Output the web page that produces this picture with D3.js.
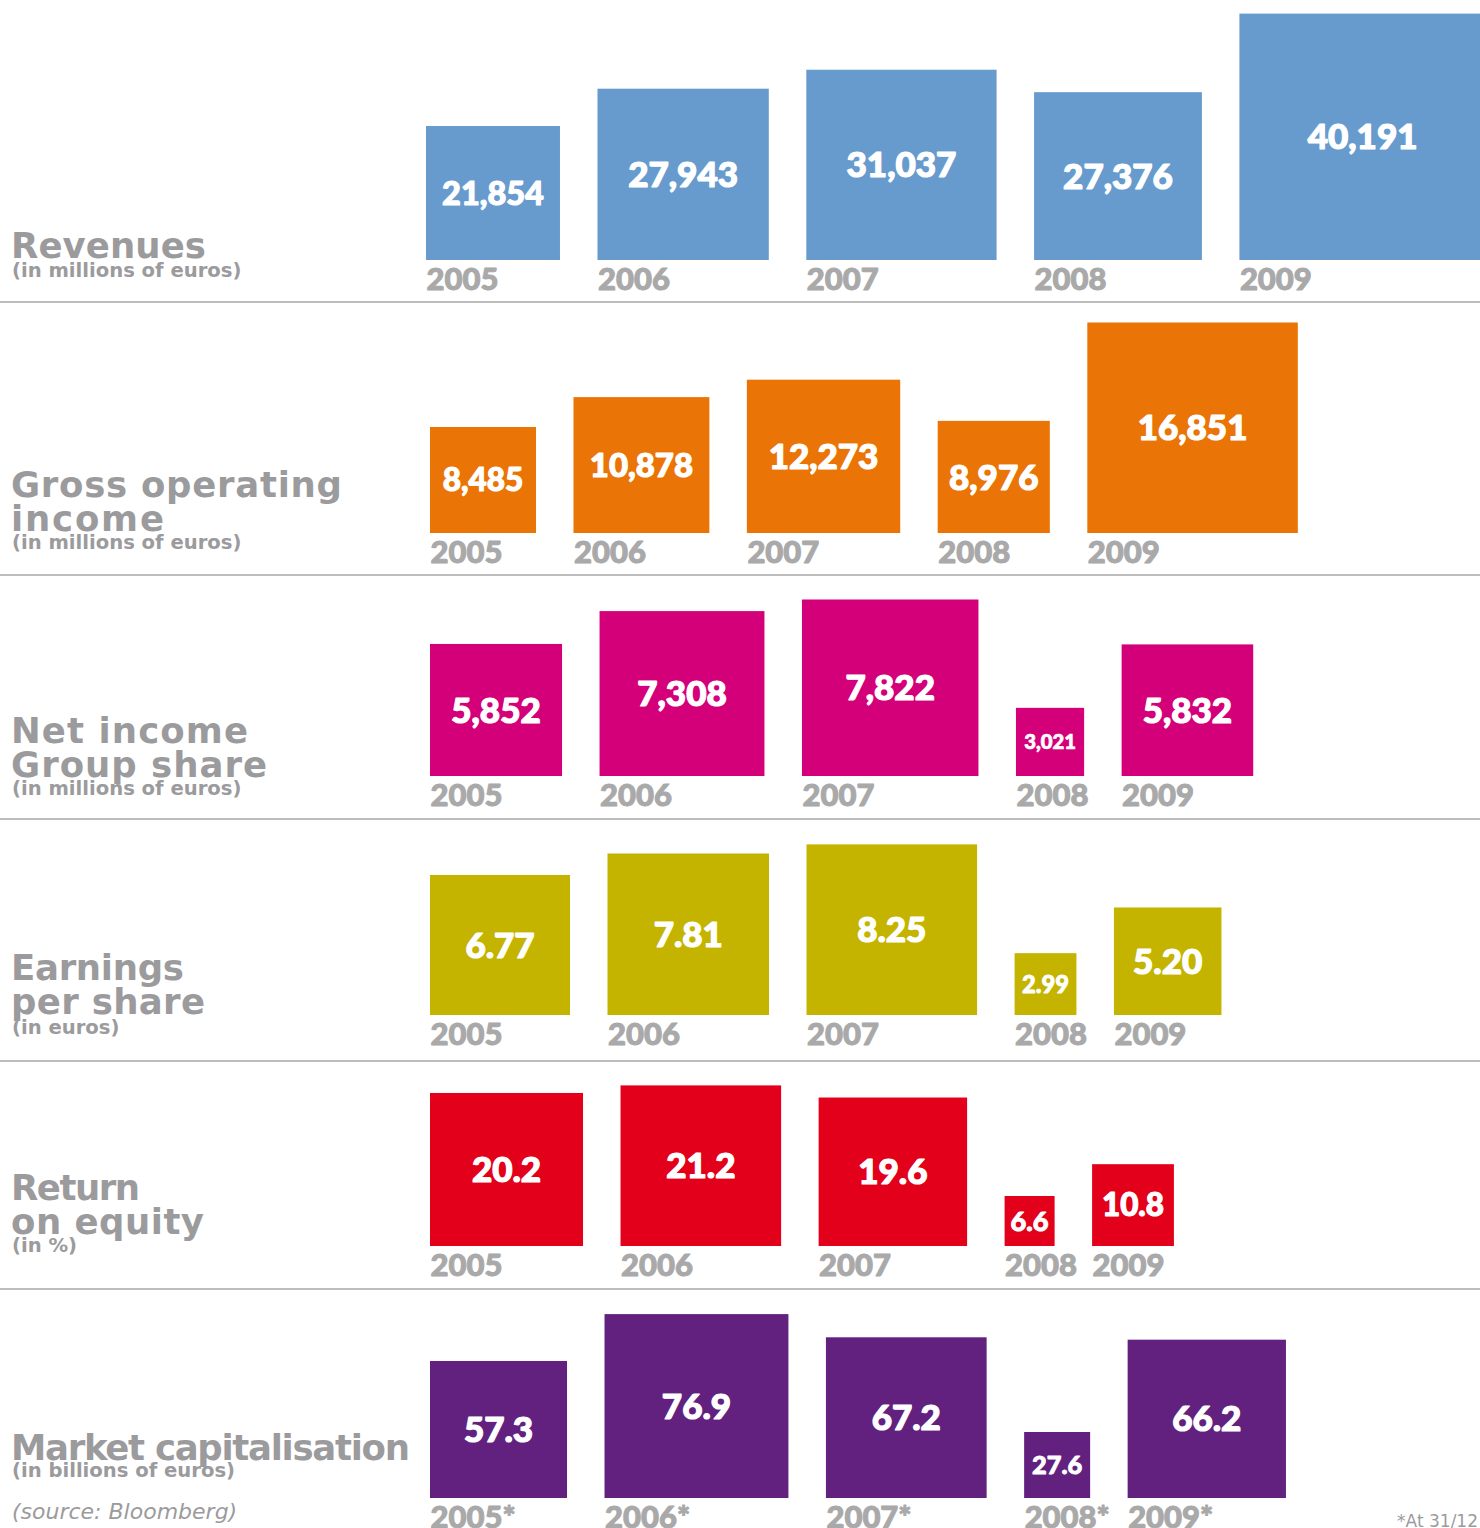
<!DOCTYPE html>
<html>
<head>
<meta charset="utf-8">
<script src="https://cdn.jsdelivr.net/npm/d3@7"></script>
<style>
  html, body { margin: 0; padding: 0; background: #ffffff; }
  svg { display: block; }
</style>
</head>
<body>
<div id="chart"></div>
<script>
// ---------- DATA ----------
const years = ["2005", "2006", "2007", "2008", "2009"];
const revenues = [21854, 27943, 31037, 27376, 40191];
const grossOperatingIncome = [8485, 10878, 12273, 8976, 16851];
const netIncomeGroupShare = [5852, 7308, 7822, 3021, 5832];
const earningsPerShare = [6.77, 7.81, 8.25, 2.99, 5.20];
const returnOnEquity = [20.2, 21.2, 19.6, 6.6, 10.8];
const marketCapitalisation = [57.3, 76.9, 67.2, 27.6, 66.2];

const rowTitles = [
  ["Revenues"],
  ["Gross operating", "income"],
  ["Net income", "Group share"],
  ["Earnings", "per share"],
  ["Return", "on equity"],
  ["Market capitalisation"]
];
const rowUnits = [
  "(in millions of euros)",
  "(in millions of euros)",
  "(in millions of euros)",
  "(in euros)",
  "(in %)",
  "(in billions of euros)"
];
const yearSuffixes = ["", "", "", "", "", "*"];
const sourceNote = "(source: Bloomberg)";
const footNote = "*At 31/12";

// ---------- LAYOUT ----------
const W = 1480, H = 1528;
const gap = 37.5;
// title line widths (px) as they appear in the reference layout
const titleWidths = [
  [195],
  [331, 153],
  [237, 256],
  [173, 194],
  [129, 193],
  [399]
];
const rows = [
  { values: revenues, fmt: d3.format(","), color: "#689bcd", base: 260, x0: 426, maxSide: 246.4,
    titleY: [258], subY: 277 },
  { values: grossOperatingIncome, fmt: d3.format(","), color: "#ea7405", base: 533, x0: 430, maxSide: 210.5,
    titleY: [497, 531], subY: 549 },
  { values: netIncomeGroupShare, fmt: d3.format(","), color: "#d4007a", base: 776, x0: 430, maxSide: 176.5,
    titleY: [743, 777], subY: 795 },
  { values: earningsPerShare, fmt: d3.format(".2f"), color: "#c4b400", base: 1015, x0: 430, maxSide: 170.6,
    titleY: [980, 1014], subY: 1034 },
  { values: returnOnEquity, fmt: d3.format(".1f"), color: "#e2001a", base: 1246, x0: 430, maxSide: 160.6,
    titleY: [1200, 1234], subY: 1252 },
  { values: marketCapitalisation, fmt: d3.format(".1f"), color: "#63217f", base: 1498, x0: 430, maxSide: 183.9,
    titleY: [1460], subY: 1477 }
];
const separators = [302, 575, 819, 1061, 1289];

const titleFont = "'DejaVu Sans', sans-serif";
const numFont = "Lato, 'DejaVu Sans', sans-serif";
const titleGray = "#9b9b9d";
const yearGray = "#a9a9aa";

const svg = d3.select("#chart").append("svg")
  .attr("width", W).attr("height", H)
  .attr("viewBox", `0 0 ${W} ${H}`);

// separators
svg.append("g").selectAll("line").data(separators).join("line")
  .attr("x1", 0).attr("x2", W)
  .attr("y1", d => d).attr("y2", d => d)
  .attr("stroke", "#bdbdbd").attr("stroke-width", 2);

rows.forEach((row, ri) => {
  const g = svg.append("g").attr("class", "row row-" + ri);
  const size = d3.scaleLinear()
    .domain([0, d3.max(row.values)])
    .range([0, row.maxSide]);

  const items = [];
  let x = row.x0;
  row.values.forEach((v, i) => {
    const s = size(v);
    items.push({ v, s, x, year: years[i] + yearSuffixes[ri] });
    x += s + gap;
  });

  g.selectAll("rect").data(items).join("rect")
    .attr("x", d => d.x)
    .attr("y", d => row.base - d.s)
    .attr("width", d => d.s)
    .attr("height", d => d.s)
    .attr("fill", row.color);

  // value labels
  const vt = g.selectAll("text.val").data(items).join("text")
    .attr("class", "val")
    .attr("x", d => d.x + d.s / 2)
    .attr("text-anchor", "middle")
    .attr("font-family", numFont)
    .attr("font-weight", 900)
    .attr("fill", "#ffffff")
    .attr("stroke", "#ffffff")
    .attr("stroke-linejoin", "round")
    .attr("font-size", 35)
    .text(d => row.fmt(d.v));
  vt.each(function(d) {
    const w = this.getComputedTextLength();
    let fs = 35;
    if (w > d.s * 0.8) fs = 35 * d.s * 0.76 / w;
    d3.select(this).attr("font-size", fs)
      .attr("stroke-width", fs * 0.035)
      .attr("y", row.base - d.s / 2 + fs * 0.36);
  });

  // year labels
  g.selectAll("text.year").data(items).join("text")
    .attr("class", "year")
    .attr("x", d => d.x + 0.5)
    .attr("y", row.base + 29.5)
    .attr("font-family", numFont)
    .attr("font-weight", 900)
    .attr("font-size", 31)
    .attr("fill", yearGray)
    .attr("stroke", yearGray)
    .attr("stroke-width", 1)
    .attr("stroke-linejoin", "round")
    .text(d => d.year);

  // titles
  rowTitles[ri].forEach((t, li) => {
    g.append("text")
      .attr("x", 11).attr("y", row.titleY[li])
      .attr("font-family", titleFont)
      .attr("font-weight", "bold")
      .attr("font-size", 35.5)
      .attr("textLength", titleWidths[ri][li])
      .attr("lengthAdjust", "spacing")
      .attr("fill", titleGray)
      .text(t);
  });
  g.append("text")
    .attr("x", 12).attr("y", row.subY)
    .attr("font-family", titleFont)
    .attr("font-weight", "bold")
    .attr("font-size", 19.6)
    .attr("fill", titleGray)
    .text(rowUnits[ri]);
});

svg.append("text")
  .attr("x", 12).attr("y", 1519)
  .attr("font-family", titleFont)
  .attr("font-style", "italic")
  .attr("font-size", 22)
  .attr("fill", titleGray)
  .text(sourceNote);

svg.append("text")
  .attr("x", 1478).attr("y", 1527)
  .attr("text-anchor", "end")
  .attr("font-family", titleFont)
  .attr("font-size", 17)
  .attr("fill", titleGray)
  .text(footNote);
</script>
</body>
</html>
